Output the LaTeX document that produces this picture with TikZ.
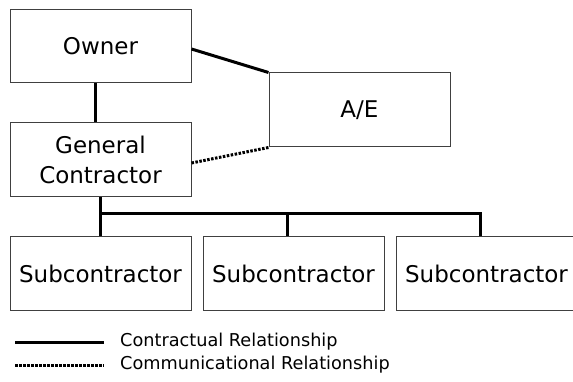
\documentclass[tikz,border=0pt]{standalone}
\usepackage{fontspec}
\setmainfont{DejaVu Sans}
\begin{document}
\begin{tikzpicture}[x=1pt,y=-1pt,
  party/.style={draw=black!75,line width=1pt,rectangle,minimum width=181pt,
    inner sep=0pt,font=\fontsize{23}{30}\selectfont,align=center},
  contract/.style={line width=3pt,black},
  comms/.style={line width=3pt,black,dash pattern=on 2.5pt off 1.5pt},
  legendtext/.style={anchor=west,inner sep=0pt,font=\fontsize{17.7}{20}\selectfont}]
\useasboundingbox (0,0) rectangle (573,382);
\clip (0,0) rectangle (573,382);
% organisation boxes
\node[party,minimum height=73pt] (owner) at (100.5,46.5) {Owner};
\node[party,minimum height=74pt] (gc) at (100.5,160) {General\\Contractor};
\node[party,minimum height=74pt] (ae) at (359.5,110) {A/E};
\node[party,minimum height=73pt] (sub1) at (100.5,273.5) {Subcontractor};
\node[party,minimum height=73pt] (sub2) at (293.5,273.5) {Subcontractor};
% the last box runs on past the right edge of the page
\node[party,minimum height=73pt,minimum width=200pt] (sub3) at (496,273.5)
  {Subcontractor\hspace*{19pt}};
% contractual links
\draw[contract] ([xshift=-5.5pt]owner.south) -- ([xshift=-5.5pt]gc.north);
\draw[contract] ([yshift=-2.5pt]owner.east) -- (ae.north west);
\draw[comms] ([yshift=-3pt]gc.east) -- (ae.south west);
\coordinate (bus) at (100,214);
\coordinate (busend) at (480,214);
\draw[contract] ([xshift=-0.5pt]gc.south) -- ([xshift=-0.5pt]sub1.north);
\draw[contract] (bus) -- (busend) -- (busend |- sub3.north);
\draw[contract] ([xshift=-6.5pt]sub2.north |- bus) -- ([xshift=-6.5pt]sub2.north);
% legend
\coordinate (la) at (15,342);
\coordinate (lb) at (104,342);
\coordinate (lc) at (15,365);
\coordinate (ld) at (104,365);
\draw[contract] (la) -- (lb);
\draw[comms] (lc) -- (ld);
\node[legendtext] (lt1) at (120,342) {Contractual Relationship};
\node[legendtext] (lt2) at (120,365) {Communicational Relationship};
\end{tikzpicture}
\end{document}
